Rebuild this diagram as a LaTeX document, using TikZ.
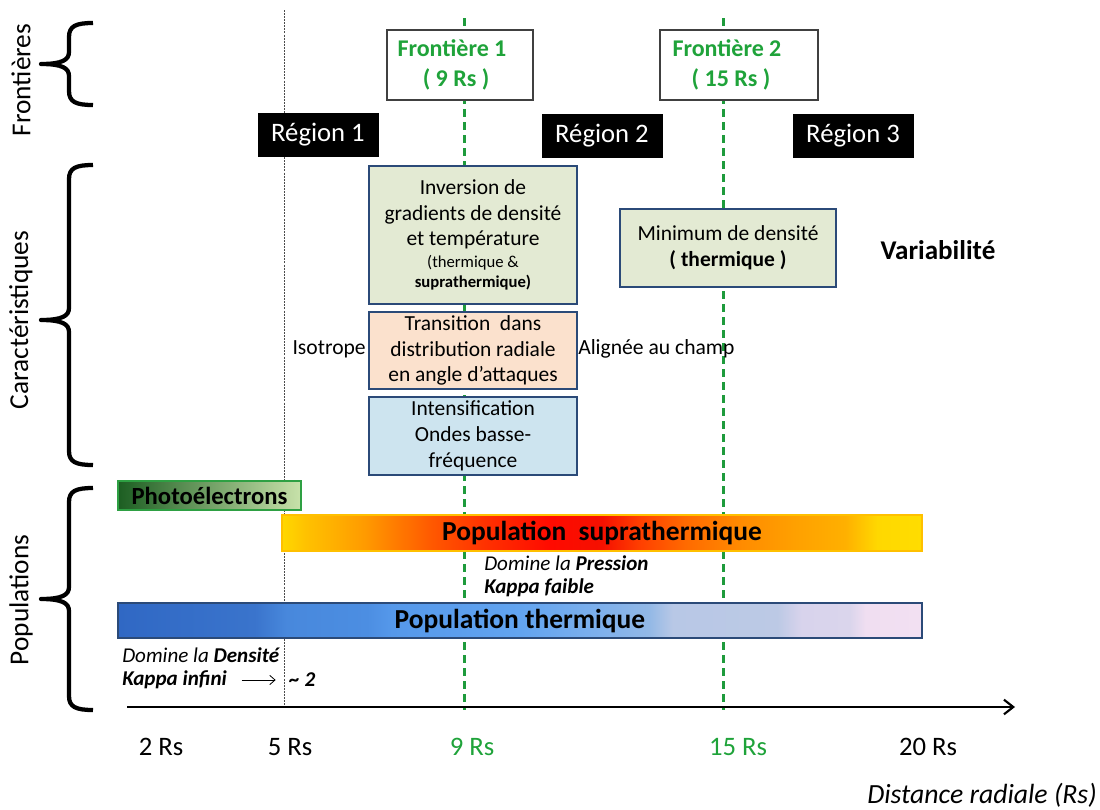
\documentclass[tikz,border=0pt]{standalone}
\usepackage{fontspec}
\setmainfont{Carlito}
\usetikzlibrary{arrows.meta}

\definecolor{gline}{HTML}{1E9B3C}
\definecolor{ftxt}{HTML}{1FA33A}
\definecolor{navy}{HTML}{2B4A78}
\definecolor{ginv}{HTML}{E3EAD3}
\definecolor{gtrans}{HTML}{FBE1CD}
\definecolor{gint}{HTML}{CDE4EF}
\definecolor{photoL}{HTML}{1C5E22}
\definecolor{photoR}{HTML}{C8E2AA}
\definecolor{photoB}{HTML}{2EA043}
\definecolor{supraB}{HTML}{FFC000}

\definecolor{sa}{HTML}{FFD800}
\definecolor{sb}{HTML}{FFC000}
\definecolor{sc}{HTML}{FFB000}
\definecolor{sd}{HTML}{FF9A00}
\definecolor{se}{HTML}{FF7A00}
\definecolor{sf}{HTML}{FF5500}
\definecolor{sg}{HTML}{FF3000}
\definecolor{sh}{HTML}{FF0A00}
\definecolor{si}{HTML}{F51000}
\definecolor{sj}{HTML}{FF4000}
\definecolor{sk}{HTML}{FF6A00}
\definecolor{sl}{HTML}{FF8C00}
\definecolor{sm}{HTML}{FFA000}
\definecolor{sn}{HTML}{FFB000}
\definecolor{so}{HTML}{FFD800}
\definecolor{sp}{HTML}{FFDD00}

\definecolor{ta}{HTML}{3068C4}
\definecolor{tb}{HTML}{3A74CC}
\definecolor{tc}{HTML}{4888DC}
\definecolor{td}{HTML}{4C8EE2}
\definecolor{te}{HTML}{5598EA}
\definecolor{tf}{HTML}{62A4F0}
\definecolor{tg}{HTML}{7EB0EC}
\definecolor{th}{HTML}{92B8E6}
\definecolor{ti}{HTML}{B8C8E6}
\definecolor{tj}{HTML}{BCC9E5}
\definecolor{tk}{HTML}{D8D3EC}
\definecolor{tl}{HTML}{DAD5EC}
\definecolor{tm}{HTML}{F0DEF1}
\definecolor{tn}{HTML}{F2E0F2}

\pgfdeclarehorizontalshading{supra}{100bp}{color(0bp)=(sa); color(25bp)=(sa);
 color(27bp)=(sb); color(29bp)=(sc); color(31.5bp)=(sd); color(34bp)=(se);
 color(37bp)=(sf); color(41bp)=(sg); color(46bp)=(sh); color(50bp)=(si);
 color(53bp)=(sj); color(56.5bp)=(sk); color(61bp)=(sl); color(65bp)=(sm);
 color(69bp)=(sn); color(71.5bp)=(so); color(75bp)=(sp); color(100bp)=(sp)}

\pgfdeclarehorizontalshading{therm}{100bp}{color(0bp)=(ta); color(25bp)=(ta);
 color(33.5bp)=(tb); color(35.5bp)=(tc); color(40.5bp)=(td); color(42bp)=(te);
 color(50bp)=(tf); color(55bp)=(tg); color(58bp)=(th); color(59.5bp)=(ti);
 color(66bp)=(tj); color(67.5bp)=(tk); color(70.5bp)=(tl); color(71.5bp)=(tm);
 color(75bp)=(tn); color(100bp)=(tn)}

\newcommand\mybrace[3]{%
  \draw[brc] (93,#1) .. controls (76,#1) and (69,#1+3) .. (69,#1+14)
    -- (69,#2-12) .. controls (69,#2-4) and (62,#2) .. (41,#2)
    .. controls (62,#2) and (69,#2+4) .. (69,#2+12)
    -- (69,#3-14) .. controls (69,#3-3) and (76,#3) .. (93,#3);}

\begin{document}
\begin{tikzpicture}[x=0.75pt,y=-0.75pt,
  brc/.style={line width=3.2pt,line join=round},
  sidelbl/.style={rotate=90,font=\fontsize{20.5}{24}\selectfont},
  regbox/.style={fill=black,text=white,minimum width=90.75pt,minimum height=33pt,
    inner sep=0pt,font=\fontsize{20}{23}\selectfont},
  frbox/.style={draw=black!75,line width=0.9pt,fill=white,minimum height=52.5pt,
    inner sep=0pt,align=center,text=ftxt,font=\fontsize{18}{22}\selectfont\bfseries},
  cbox/.style={draw=navy,line width=1.5pt,align=center,inner sep=0pt,
    font=\fontsize{16.1}{19.3}\selectfont},
  plain/.style={inner sep=0pt,font=\fontsize{16.2}{19.3}\selectfont},
  itl/.style={inner sep=0pt,anchor=west,font=\fontsize{15.8}{19}\selectfont\itshape},
  poplbl/.style={font=\fontsize{20.6}{24}\selectfont\bfseries},
  axlbl/.style={inner sep=0pt,font=\fontsize{20}{23}\selectfont},
  gdash/.style={draw=gline,line width=2.25pt,dash pattern=on 6pt off 3.75pt},
  gdot/.style={draw=black!70,line width=0.6pt,dash pattern=on 1.5pt off 0.8pt}
]
\useasboundingbox[fill=white] (0,0) rectangle (1100,810);

% side braces and labels
\mybrace{23}{64}{105}
\mybrace{165}{320}{465}
\mybrace{488}{599}{710}
\node[sidelbl] (lfront) at (21,80) {Frontières};
\node[sidelbl] (lcarac) at (21,320) {Caractéristiques};
\node[sidelbl] (lpop) at (21,600) {Populations};

% vertical guide lines
\coordinate (d5t) at (284,10);
\coordinate (d5b) at (284,708);
\coordinate (g9t) at (464,18);
\coordinate (g9b) at (464,710);
\coordinate (g15t) at (723,18);
\coordinate (g15b) at (723,710);
\draw[gdot] (d5t) -- (d5b);
\draw[gdash] (g9t) -- (g9b);
\draw[gdash] (g15t) -- (g15b);

% axis
\coordinate (axs) at (127,707);
\coordinate (axe) at (1015,707);
\draw[line width=1.6pt,-{Straight Barb[length=7pt,width=11pt,line width=1.6pt]}] (axs) -- (axe);

% boundaries
\node[frbox,minimum width=109.5pt] (f1) at (460,65) {Frontière 1\hspace*{12pt}\\( 9 Rs )\hspace*{6pt}};
\node[frbox,minimum width=118.5pt] (f2) at (739,65) {Frontière 2\hspace*{18pt}\\( 15 Rs )\hspace*{12pt}};

% regions
\node[regbox] (r1) at (318,135) {Région 1};
\node[regbox] (r2) at (602,136) {Région 2};
\node[regbox] (r3) at (853,136) {Région 3};

% characteristics
\node[cbox,fill=ginv,minimum width=156pt,minimum height=103.5pt] (inv) at (473,235)
  {Inversion de\\gradients de densité\\et température\\[-3pt]
   {\fontsize{12.5}{15}\selectfont (thermique \&}\\[-4pt]
   {\fontsize{12.5}{15}\selectfont\bfseries suprathermique)}};
\node[cbox,fill=ginv,minimum width=162pt,minimum height=58.5pt] (mini) at (728,248)
  {Minimum de densité\\{\bfseries ( thermique )}};
\node[cbox,fill=gtrans,minimum width=156pt,minimum height=57.75pt] (trans) at (473,350.5)
  {Transition\ \ dans\\distribution radiale\\en angle d’attaques};
\node[cbox,fill=gint,minimum width=156pt,minimum height=58.5pt] (intens) at (473,436)
  {Intensification\\Ondes basse-\\fréquence};
\node[font=\fontsize{20.3}{24}\selectfont\bfseries] (var) at (938,250) {Variabilité};
\node[plain,anchor=east] (iso) at (366,349) {Isotrope};
\node[plain,anchor=west] (alig) at (578,349) {Alignée au champ};

% populations
\node[draw=photoB,line width=1.5pt,left color=photoL,right color=photoR,
  minimum width=137.25pt,minimum height=21.75pt,inner sep=0pt,
  font=\fontsize{18.5}{22}\selectfont\bfseries] (photo) at (209.5,495.5) {Photoélectrons};
\node[draw=supraB,line width=1.2pt,shade,shading=supra,
  minimum width=480pt,minimum height=27pt,inner sep=0pt,poplbl] (supra) at (602,533)
  {Population\ \ suprathermique};
\node[draw=navy,line width=1.5pt,shade,shading=therm,
  minimum width=603pt,minimum height=26.25pt,inner sep=0pt,poplbl] (therm) at (520,620.5)
  {Population thermique};

\node[itl] (dpress) at (484,563) {Domine la \textbf{Pression}};
\node[itl] (kfaib) at (484,588) {\textbf{Kappa faible}};
\node[itl] (ddens) at (122,655) {Domine la \textbf{Densité}};
\node[itl] (kinf) at (122,680) {\textbf{Kappa infini}};
\node[itl] (ktwo) at (289,680) {\textbf{\~{} 2}};
\draw[line width=0.6pt,-{Straight Barb[length=4pt,width=7pt]},
  shorten <=11pt,shorten >=10pt] (kinf.east) -- (ktwo.west);

% axis labels
\node[axlbl] (x2) at (161,747) {2 Rs};
\node[axlbl] (x5) at (290,747) {5 Rs};
\node[axlbl,text=ftxt] (x9) at (472,747) {9 Rs};
\node[axlbl,text=ftxt] (x15) at (738,747) {15 Rs};
\node[axlbl] (x20) at (928,747) {20 Rs};
\node[inner sep=0pt,anchor=east,font=\fontsize{20.8}{24}\selectfont\itshape] (dist) at (1097,795)
  {Distance radiale (Rs)};
\end{tikzpicture}
\end{document}
